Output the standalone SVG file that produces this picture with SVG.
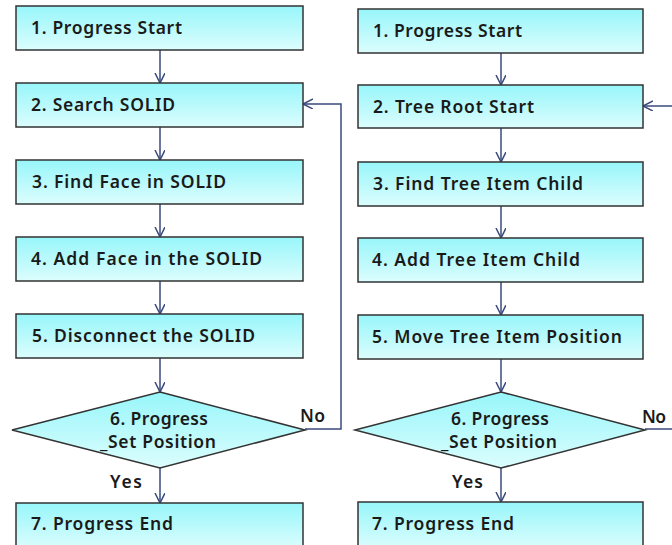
<svg xmlns="http://www.w3.org/2000/svg" width="672" height="545" viewBox="0 0 672 545">
<defs>
<linearGradient id="g" x1="0" y1="0" x2="0" y2="1">
<stop offset="0" stop-color="#97f6fa"/>
<stop offset="1" stop-color="#dcfdfd"/>
</linearGradient>
<marker id="a" markerWidth="12" markerHeight="12" refX="10" refY="5" orient="auto" markerUnits="userSpaceOnUse">
<path d="M0,0 L10,5 L0,10" fill="none" stroke="#3a4a7c" stroke-width="1.5"/>
</marker>
<style>
.box{fill:url(#g);stroke:#333;stroke-width:1.5}
.t{font-family:"Noto Sans","Open Sans",sans-serif;font-size:17.5px;font-weight:600;fill:#1a1a1a}
.c{fill:none;stroke:#3a4a7c;stroke-width:1.5}
</style>
</defs>
<rect width="672" height="545" fill="#fff"/>
<g id="connectors">
<line class="c" x1="160" y1="50" x2="160" y2="83" marker-end="url(#a)"/>
<line class="c" x1="160" y1="127" x2="160" y2="160" marker-end="url(#a)"/>
<line class="c" x1="160" y1="204" x2="160" y2="237" marker-end="url(#a)"/>
<line class="c" x1="160" y1="281" x2="160" y2="314" marker-end="url(#a)"/>
<line class="c" x1="160" y1="358" x2="160" y2="392" marker-end="url(#a)"/>
<line class="c" x1="160" y1="468" x2="160" y2="503" marker-end="url(#a)"/>
<polyline class="c" points="305,429 341,429 341,104 303,104" marker-end="url(#a)"/>
<line class="c" x1="501" y1="53" x2="501" y2="85" marker-end="url(#a)"/>
<line class="c" x1="501" y1="128" x2="501" y2="162" marker-end="url(#a)"/>
<line class="c" x1="501" y1="206" x2="501" y2="238" marker-end="url(#a)"/>
<line class="c" x1="501" y1="282" x2="501" y2="315" marker-end="url(#a)"/>
<line class="c" x1="501" y1="359" x2="501" y2="392" marker-end="url(#a)"/>
<line class="c" x1="501" y1="468" x2="501" y2="502" marker-end="url(#a)"/>
<polyline class="c" points="645,429 672,429"/>
<line class="c" x1="672" y1="106" x2="643" y2="106" marker-end="url(#a)"/>
<text class="t" x="300" y="422" textLength="25">No</text>
<text class="t" x="642" y="423" textLength="24">No</text>
<text class="t" x="110" y="488" textLength="32">Yes</text>
<text class="t" x="452" y="488" textLength="31">Yes</text>
</g>
<g id="L1"><rect class="box" x="16" y="6" width="287" height="44"/><text class="t" x="31" y="34" textLength="151">1. Progress  Start</text></g>
<g id="L2"><rect class="box" x="16" y="83" width="287" height="44"/><text class="t" x="31" y="111" textLength="144">2. Search  SOLID</text></g>
<g id="L3"><rect class="box" x="16" y="160" width="287" height="44"/><text class="t" x="32" y="188" textLength="194">3. Find Face in SOLID</text></g>
<g id="L4"><rect class="box" x="16" y="237" width="287" height="44"/><text class="t" x="31" y="265" textLength="231">4. Add Face in the SOLID</text></g>
<g id="L5"><rect class="box" x="16" y="314" width="287" height="44"/><text class="t" x="32" y="342" textLength="223">5. Disconnect  the SOLID</text></g>
<g id="L6"><polygon class="box" points="160,392 305,430 160,468 12,430"/><text class="t" x="110" y="425" textLength="98">6. Progress</text><text class="t" x="100" y="448" textLength="116">_Set Position</text></g>
<g id="L7"><rect class="box" x="16" y="503" width="287" height="46"/><text class="t" x="31" y="530" textLength="142">7. Progress  End</text></g>
<g id="R1"><rect class="box" x="358" y="9" width="285" height="44"/><text class="t" x="373" y="37" textLength="149">1. Progress  Start</text></g>
<g id="R2"><rect class="box" x="358" y="85" width="285" height="43"/><text class="t" x="373" y="113" textLength="161">2. Tree Root Start</text></g>
<g id="R3"><rect class="box" x="358" y="162" width="285" height="44"/><text class="t" x="373" y="190" textLength="210">3. Find Tree Item  Child</text></g>
<g id="R4"><rect class="box" x="358" y="238" width="285" height="44"/><text class="t" x="372" y="266" textLength="208">4. Add Tree Item Child</text></g>
<g id="R5"><rect class="box" x="358" y="315" width="285" height="44"/><text class="t" x="372" y="343" textLength="250">5. Move Tree Item  Position</text></g>
<g id="R6"><polygon class="box" points="501,392 645,430 501,468 355,430"/><text class="t" x="451" y="425" textLength="98">6. Progress</text><text class="t" x="441" y="448" textLength="116">_Set Position</text></g>
<g id="R7"><rect class="box" x="358" y="502" width="285" height="47"/><text class="t" x="372" y="530" textLength="142">7. Progress  End</text></g>
</svg>
